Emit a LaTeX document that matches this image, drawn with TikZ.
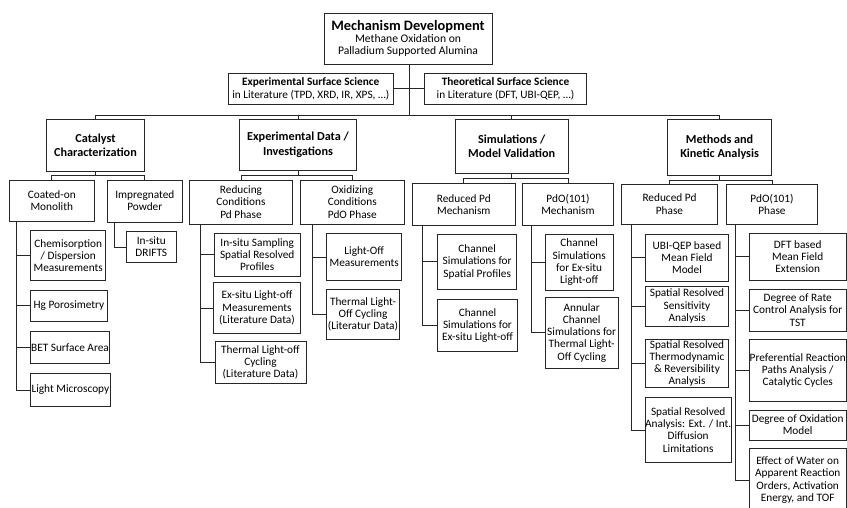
\documentclass[tikz,border=0pt]{standalone}
\usepackage{fontspec}
\setmainfont{Carlito}
\begin{document}
\begin{tikzpicture}[x=1pt,y=-1pt,
  box/.style={draw=black!85, line width=0.9pt, inner sep=0pt, align=center, font=\fontsize{11.3}{12.2}\selectfont},
  hbox/.style={box, font=\fontsize{12.2}{14.4}\selectfont\bfseries},
  lit/.style={box, font=\fontsize{11.3}{13.3}\selectfont},
  conn/.style={draw=black!85, line width=0.9pt}]
\useasboundingbox (0,0) rectangle (847,508);
\clip (0,0) rectangle (847,508);
\fill[white] (0,0) rectangle (847,508);
% top
\node[box, minimum width=168, minimum height=51] (top) at (408,38.5)
 {{\fontsize{14.4}{15.8}\selectfont\bfseries Mechanism Development}\\[-0.5pt]
  {\fontsize{11.6}{15.6}\selectfont Methane Oxidation on}\\[-0.5pt]
  {\fontsize{11.6}{15.6}\selectfont Palladium Supported Alumina}};
\node[lit, minimum width=165, minimum height=30.7] (exps) at (310.8,88.7)
 {\textbf{Experimental Surface Science}\\in Literature (TPD, XRD, IR, XPS, …)};
\node[lit, minimum width=162.4, minimum height=30.7] (theo) at (505.5,88.7)
 {\textbf{Theoretical Surface Science}\\in Literature (DFT, UBI-QEP, …)};
% level 2
\node[hbox, minimum width=97.6, minimum height=51.7] (cat) at (95.5,145.2) {Catalyst\\Characterization};
\node[hbox, minimum width=117.4, minimum height=50.7] (expd) at (298,144.7) {Experimental Data /\\Investigations};
\node[hbox, minimum width=113.3, minimum height=53.7] (sim) at (511.7,146.2) {Simulations /\\Model Validation};
\node[hbox, minimum width=104.2, minimum height=55.7] (meth) at (719.6,147.2) {Methods and\\Kinetic Analysis};
% level 3
\node[box, minimum width=85, minimum height=41] (coat) at (51.8,200.5) {Coated-on\\Monolith};
\node[box, minimum width=75, minimum height=42] (impr) at (144.8,201) {Impregnated\\Powder};
\node[box, minimum width=103.4, minimum height=44] (red) at (241,202) {Reducing\\Conditions\\Pd Phase};
\node[box, minimum width=103.3, minimum height=44] (oxi) at (352.3,202) {Oxidizing\\Conditions\\PdO Phase};
\node[box, minimum width=102.3, minimum height=42.4] (rpdm) at (463.8,204.5) {Reduced Pd\\Mechanism};
\node[box, minimum width=90.6, minimum height=42.4] (pdom) at (568,204.5) {PdO(101)\\Mechanism};
\node[box, minimum width=95.6, minimum height=40.3] (rpdp) at (669.5,204.2) {Reduced Pd\\Phase};
\node[box, minimum width=90.6, minimum height=40.3] (pdop) at (772,204.2) {PdO(101)\\Phase};
% leaves: catalyst
\node[box, minimum width=75, minimum height=49.7] (chem) at (68.2,255.8) {Chemisorption\\/ Dispersion\\Measurements};
\node[box, minimum width=76.6, minimum height=31.7] (hg) at (69,305.8) {Hg Porosimetry};
\node[box, minimum width=78.6, minimum height=32.3] (bet) at (70,347.2) {BET Surface Area};
\node[box, minimum width=79.3, minimum height=33.4] (lm) at (70.4,390) {Light Microscopy};
\node[box, minimum width=50.7, minimum height=30.6] (drifts) at (151.3,247) {In-situ\\DRIFTS};
% leaves: experimental data
\node[box, minimum width=85.7, minimum height=42.7] (insitu) at (257.2,254.7) {In-situ Sampling\\Spatial Resolved\\Profiles};
\node[box, minimum width=87.4, minimum height=50.6] (exsitu) at (257,308) {Ex-situ Light-off\\Measurements\\(Literature Data)};
\node[box, minimum width=91, minimum height=41.6] (tlc) at (260.5,362.5) {Thermal Light-off\\Cycling\\(Literature Data)};
\node[box, minimum width=75, minimum height=47.4] (lom) at (364.2,257) {Light-Off\\Measurements};
\node[box, minimum width=72.6, minimum height=50] (tloc) at (363,314.3) {Thermal Light-\\Off Cycling\\(Literatur Data)};
% leaves: simulations
\node[box, minimum width=79, minimum height=55] (csp) at (477.2,261.8) {Channel\\Simulations for\\Spatial Profiles};
\node[box, minimum width=79.6, minimum height=52.7] (cse) at (477.5,325.3) {Channel\\Simulations for\\Ex-situ Light-off};
\node[box, minimum width=68.3, minimum height=55.7] (cse2) at (579.2,262.2) {Channel\\Simulations\\for Ex-situ\\Light-off};
\node[box, minimum width=73.3, minimum height=71] (acs) at (581.7,332.8) {Annular\\Channel\\Simulations for\\Thermal Light-\\Off Cycling};
% leaves: methods
\node[box, minimum width=82.6, minimum height=46.7] (ubi) at (687,257.7) {UBI-QEP based\\Mean Field\\Model};
\node[box, minimum width=82.6, minimum height=40] (srsa) at (687,306) {Spatial Resolved\\Sensitivity\\Analysis};
\node[box, minimum width=82.6, minimum height=48] (srtr) at (687,363.3) {Spatial Resolved\\Thermodynamic\\\& Reversibility\\Analysis};
\node[box, minimum width=85, minimum height=65.4] (srad) at (688.2,430) {Spatial Resolved\\Analysis: Ext. / Int.\\Diffusion\\Limitations};
\node[box, minimum width=96.7, minimum height=46.7] (dft) at (797.7,256.7) {DFT based\\Mean Field\\Extension};
\node[box, minimum width=96.7, minimum height=42] (drc) at (797.7,310) {Degree of Rate\\Control Analysis for\\TST};
\node[box, minimum width=96.7, minimum height=62.4] (prp) at (797.7,370.5) {Preferential Reaction\\Paths Analysis /\\Catalytic Cycles};
\node[box, minimum width=96.7, minimum height=30] (doo) at (797.7,425) {Degree of Oxidation\\Model};
\node[box, minimum width=96.7, minimum height=63.4] (eow) at (797.7,480) {Effect of Water on\\Apparent Reaction\\Orders,  Activation\\Energy, and TOF};
% connectors level 0-1-2
\coordinate (bus) at (409,115);
\draw[conn] (top.south -| bus) -- (bus);
\draw[conn] (exps.east) -- (theo.west);
\draw[conn] (bus) -| (cat.north);
\draw[conn] (bus) -| (expd.north);
\draw[conn] (bus) -| (sim.north);
\draw[conn] (bus) -| (meth.north);
% level 2-3
\draw[conn] (cat.south) -- ++(0,4) -| (coat.north);
\draw[conn] (cat.south) -- ++(0,4) -| (impr.north);
\draw[conn] (expd.south) -- ++(0,5) -| (red.north);
\draw[conn] (expd.south) -- ++(0,5) -| (oxi.north);
\draw[conn] (sim.south) -- ++(0,5) -| (rpdm.north);
\draw[conn] (sim.south) -- ++(0,5) -| (pdom.north);
\draw[conn] (meth.south) -- ++(0,4.8) -| (rpdp.north);
\draw[conn] (meth.south) -- ++(0,4.8) -| (pdop.north);
% level 3-leaves
\foreach \c in {chem,hg,bet,lm} \draw[conn] ([xshift=8]coat.south west) |- (\c.west);
\draw[conn] ([xshift=7.7]impr.south west) |- (drifts.west);
\foreach \c in {insitu,exsitu,tlc} \draw[conn] ([xshift=11.4]red.south west) |- (\c.west);
\foreach \c in {lom,tloc} \draw[conn] ([xshift=12]oxi.south west) |- (\c.west);
\foreach \c in {csp,cse} \draw[conn] ([xshift=10.6]rpdm.south west) |- (\c.west);
\foreach \c in {cse2,acs} \draw[conn] ([xshift=9.6]pdom.south west) |- (\c.west);
\foreach \c in {ubi,srsa,srtr,srad} \draw[conn] ([xshift=10]rpdp.south west) |- (\c.west);
\foreach \c in {dft,drc,prp,doo,eow} \draw[conn] ([xshift=9.3]pdop.south west) |- (\c.west);
\end{tikzpicture}
\end{document}
